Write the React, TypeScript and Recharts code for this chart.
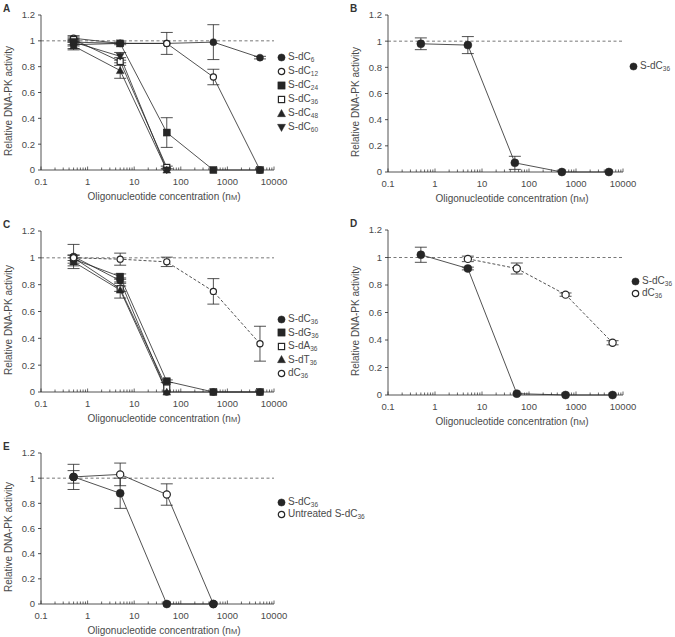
import { LineChart, Line, XAxis, YAxis, ReferenceLine, ErrorBar } from 'recharts'

const FONT = '"Liberation Sans", Arial, Helvetica, sans-serif'
const INK = '#262626'
const TXT = '#4a4a4a'

// x axis: decades + minor log ticks
const decades = [0.1, 1, 10, 100, 1000, 10000]
const decadeLabels = ['0.1', '1', '10', '100', '1000', '10000']
const minorTicks = decades.slice(0, 5).flatMap((d) => [2, 3, 4, 5, 6, 7, 8, 9].map((k) => d * k))
const xTicks = [...decades, ...minorTicks]
const yTicks = [0, 0.2, 0.4, 0.6, 0.8, 1, 1.2]

// concentrations (nM)
const doses = [0.5, 5, 50, 500, 5000]
const doses4 = [0.5, 5, 50, 500]
const doses3 = [0.5, 5, 50]
const dosesD = [0.5, 5, 55, 600, 6000]
const dosesD4 = [5, 55, 600, 6000]

// panel A
const aDC6 = [0.97, 0.98, 0.98, 0.99, 0.87]
const aDC6Err = [0.03, 0, 0.085, 0.135, 0.01]
const aDC12 = [1.02, 0.98, 0.98, 0.72, 0]
const aDC12Err = [0.02, 0, 0, 0.06, 0]
const aDC24 = [0.99, 0.98, 0.29, 0, 0]
const aDC24Err = [0.03, 0.01, 0.115, 0, 0]
const aDC36 = [1.01, 0.84, 0.02]
const aDC36Err = [0.02, 0.03, 0.01]
const aDC48 = [0.96, 0.77, 0]
const aDC48Err = [0.03, 0.06, 0]
const aDC60 = [0.99, 0.88, 0]
const aDC60Err = [0.02, 0.03, 0]

// panel B
const bDC36 = [0.98, 0.97, 0.07, 0, 0]
const bDC36Err = [0.045, 0.065, 0.05, 0, 0]

// panel C
const cDC36 = [1.01, 0.83, 0, 0, 0]
const cDC36Err = [0.09, 0.02, 0, 0, 0]
const cDG36 = [0.99, 0.86, 0.08, 0, 0]
const cDG36Err = [0.03, 0.02, 0.01, 0, 0]
const cDA36 = [1.0, 0.77, 0.03]
const cDA36Err = [0.02, 0.02, 0]
const cDT36 = [0.97, 0.76, 0]
const cDT36Err = [0.03, 0.06, 0]
const cUn36 = [1.0, 0.99, 0.97, 0.75, 0.36]
const cUn36Err = [0, 0.045, 0.035, 0.095, 0.13]

// panel D
const dDC36 = [1.02, 0.92, 0.01, 0, 0]
const dDC36Err = [0.055, 0.01, 0, 0, 0]
const dUn36 = [0.99, 0.92, 0.73, 0.38]
const dUn36Err = [0.02, 0.04, 0.012, 0.015]

// panel E
const eDC36 = [1.01, 0.88, 0, 0]
const eDC36Err = [0.1, 0.12, 0, 0]
const eUntr = [1.01, 1.03, 0.87, 0]
const eUntrErr = [0.05, 0.09, 0.085, 0]

type Kind = 'circle' | 'openCircle' | 'square' | 'openSquare' | 'triUp' | 'triDown'
interface Series { name: string; sub: string; kind: Kind; x: number[]; y: number[]; err: number[]; dashed?: boolean }

const zip = (x: number[], y: number[], e: number[]) => x.map((v, i) => ({ x: v, y: y[i], e: e[i] }))

function Marker({ kind, cx, cy, r }: { kind: Kind; cx: number; cy: number; r: number }) {
  const open = kind === 'openCircle' || kind === 'openSquare'
  const fill = open ? '#fff' : INK
  const sw = open ? 1.2 : 0.5
  if (kind === 'circle' || kind === 'openCircle') return <circle cx={cx} cy={cy} r={open ? r - 0.4 : r} fill={fill} stroke={INK} strokeWidth={sw} />
  if (kind === 'square' || kind === 'openSquare') {
    const s = open ? r - 0.5 : r
    return <rect x={cx - s} y={cy - s} width={2 * s} height={2 * s} fill={fill} stroke={INK} strokeWidth={sw} />
  }
  const h = r * 1.1
  const pts = kind === 'triUp'
    ? `${cx},${cy - h} ${cx - h},${cy + h * 0.8} ${cx + h},${cy + h * 0.8}`
    : `${cx},${cy + h} ${cx - h},${cy - h * 0.8} ${cx + h},${cy - h * 0.8}`
  return <polygon points={pts} fill={INK} stroke={INK} strokeWidth={0.5} />
}

const XTick = (props: any) => {
  const { x, y, payload } = props
  const i = decades.indexOf(payload.value)
  const major = i >= 0
  return (
    <g>
      <line x1={x} x2={x} y1={y} y2={y - (major ? 3.5 : 2.5)} stroke={INK} strokeWidth={0.7} />
      {major && (
        <text x={x} y={y + 15} textAnchor="middle" fontSize={9.5} fill={TXT} fontFamily={FONT}>
          {decadeLabels[i]}
        </text>
      )}
    </g>
  )
}

interface PanelProps {
  letter: string
  left: number
  top: number
  w: number
  h: number
  r: number
  series: Series[]
  legend: { x: number; y: number; gap: number; order?: number[] }
}

function Panel({ letter, left, top, w, h, r, series, legend }: PanelProps) {
  const axisW = 40
  const padR = 22
  const order = legend.order ?? series.map((_, i) => i)
  return (
    <>
      <div style={{ position: 'absolute', left: left - 38, top: top - 12, fontSize: 10, fontWeight: 'bold', color: '#333', fontFamily: FONT }}>{letter}</div>
      <div style={{ position: 'absolute', left: left - axisW, top: top - 6 }}>
        <LineChart width={axisW + w + padR} height={6 + h + 24} margin={{ top: 6, right: padR, bottom: 0, left: 0 }} style={{ overflow: 'visible' }}>
          <XAxis
            dataKey="x"
            type="number"
            scale="log"
            domain={[0.1, 10000]}
            ticks={xTicks}
            interval={0}
            height={24}
            tickSize={0}
            tickMargin={0}
            tickLine={false}
            tick={<XTick />}
            axisLine={{ stroke: INK, strokeWidth: 0.8 }}
          />
          <YAxis
            type="number"
            domain={[0, 1.2]}
            ticks={yTicks}
            interval={0}
            width={axisW}
            tickSize={3}
            tickMargin={3}
            tick={{ fontSize: 9.5, fill: TXT, fontFamily: FONT }}
            tickLine={{ stroke: INK, strokeWidth: 0.8 }}
            axisLine={{ stroke: INK, strokeWidth: 0.8 }}
          />
          <ReferenceLine y={1} stroke="#555" strokeWidth={0.8} strokeDasharray="3 2.5" />
          {series.map((s) => (
            <Line
              key={s.name + s.sub}
              data={zip(s.x, s.y, s.err)}
              dataKey="y"
              stroke={INK}
              strokeWidth={0.8}
              strokeDasharray={s.dashed ? '3 2' : undefined}
              isAnimationActive={false}
              dot={(p: any) => <Marker key={p.index} kind={s.kind} cx={p.cx} cy={p.cy} r={r} />}
              activeDot={false}
            >
              <ErrorBar dataKey="e" width={6} stroke={INK} strokeWidth={0.8} direction="y" />
            </Line>
          ))}
        </LineChart>
      </div>
      <div
        style={{
          position: 'absolute', left: left - 33, top: top + h / 2 + 8,
          transform: 'translate(-50%, -50%) rotate(-90deg)', whiteSpace: 'nowrap',
          fontSize: 10, color: TXT, fontFamily: FONT,
        }}
      >
        Relative DNA-PK activity
      </div>
      <div
        style={{
          position: 'absolute', left: left + w / 2 + 6.5, top: top + h + 26,
          transform: 'translate(-50%, -50%)', whiteSpace: 'nowrap',
          fontSize: 10, color: TXT, fontFamily: FONT,
        }}
      >
        Oligonucleotide concentration (n<span style={{ fontSize: 7.5 }}>M</span>)
      </div>
      {order.map((idx, i) => {
        const s = series[idx]
        return (
          <div
            key={'lg' + i}
            style={{
              position: 'absolute', left: legend.x, top: legend.y + i * legend.gap - 6,
              display: 'flex', alignItems: 'center', whiteSpace: 'nowrap',
              fontSize: 10, color: TXT, fontFamily: FONT, height: 12,
            }}
          >
            <svg width={9} height={9} style={{ marginRight: 2 }}>
              <Marker kind={s.kind} cx={4.5} cy={4.5} r={3.6} />
            </svg>
            <span>
              {s.name}
              <sub style={{ fontSize: 6.5, verticalAlign: -2 }}>{s.sub}</sub>
            </span>
          </div>
        )
      })}
    </>
  )
}

// drawing order: S-dC24 above S-dC36 so its filled squares show at the base
const seriesA: Series[] = [
  { name: 'S-dC', sub: '6', kind: 'circle', x: doses, y: aDC6, err: aDC6Err },
  { name: 'S-dC', sub: '12', kind: 'openCircle', x: doses, y: aDC12, err: aDC12Err },
  { name: 'S-dC', sub: '36', kind: 'openSquare', x: doses3, y: aDC36, err: aDC36Err },
  { name: 'S-dC', sub: '24', kind: 'square', x: doses, y: aDC24, err: aDC24Err },
  { name: 'S-dC', sub: '48', kind: 'triUp', x: doses3, y: aDC48, err: aDC48Err },
  { name: 'S-dC', sub: '60', kind: 'triDown', x: doses3, y: aDC60, err: aDC60Err },
]
const legendOrderA = [0, 1, 3, 2, 4, 5]

const seriesB: Series[] = [
  { name: 'S-dC', sub: '36', kind: 'circle', x: doses, y: bDC36, err: bDC36Err },
]

const seriesC: Series[] = [
  { name: 'S-dC', sub: '36', kind: 'circle', x: doses, y: cDC36, err: cDC36Err },
  { name: 'S-dG', sub: '36', kind: 'square', x: doses, y: cDG36, err: cDG36Err },
  { name: 'S-dA', sub: '36', kind: 'openSquare', x: doses3, y: cDA36, err: cDA36Err },
  { name: 'S-dT', sub: '36', kind: 'triUp', x: doses3, y: cDT36, err: cDT36Err },
  { name: 'dC', sub: '36', kind: 'openCircle', x: doses, y: cUn36, err: cUn36Err, dashed: true },
]

const seriesD: Series[] = [
  { name: 'S-dC', sub: '36', kind: 'circle', x: dosesD, y: dDC36, err: dDC36Err },
  { name: 'dC', sub: '36', kind: 'openCircle', x: dosesD4, y: dUn36, err: dUn36Err, dashed: true },
]

// filled S-dC36 drawn last so it sits on top
const seriesE: Series[] = [
  { name: 'Untreated S-dC', sub: '36', kind: 'openCircle', x: doses4, y: eUntr, err: eUntrErr },
  { name: 'S-dC', sub: '36', kind: 'circle', x: doses4, y: eDC36, err: eDC36Err },
]
const legendOrderE = [1, 0]

export default function App() {
  return (
    <div style={{ position: 'absolute', left: 0, top: 0, width: 675, height: 637, background: '#fff', overflow: 'hidden' }}>
      <Panel letter="A" left={41} top={15} w={233} h={155} r={3.5} series={seriesA} legend={{ x: 277, y: 57, gap: 14, order: legendOrderA }} />
      <Panel letter="B" left={388} top={15} w={235} h={157} r={4} series={seriesB} legend={{ x: 629, y: 66, gap: 14 }} />
      <Panel letter="C" left={41} top={231} w={233} h={161} r={3.5} series={seriesC} legend={{ x: 277, y: 319, gap: 13.5 }} />
      <Panel letter="D" left={388} top={230} w={235} h={165} r={4} series={seriesD} legend={{ x: 631, y: 281, gap: 12 }} />
      <Panel letter="E" left={41} top={453} w={233} h={151} r={4} series={seriesE} legend={{ x: 277, y: 502, gap: 12, order: legendOrderE }} />
    </div>
  )
}
